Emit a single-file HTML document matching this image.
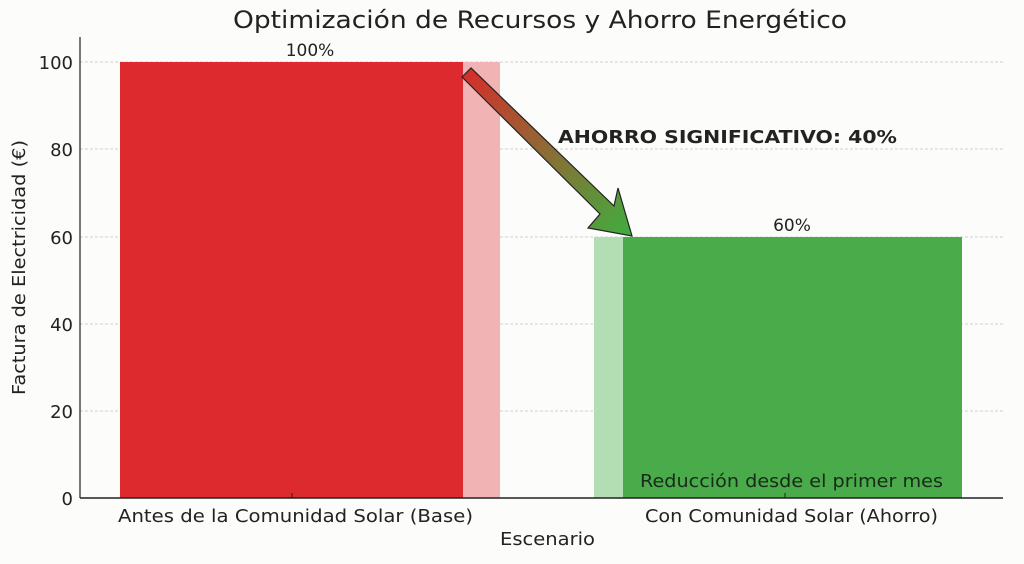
<!DOCTYPE html>
<html><head><meta charset="utf-8"><style>body{margin:0;background:#fcfcfb}</style></head><body>
<svg width="1024" height="559" xmlns="http://www.w3.org/2000/svg" font-family="DejaVu Sans, Liberation Sans, sans-serif">
<defs><linearGradient id="g" x1="0" y1="0" x2="1" y2="1"><stop offset="0" stop-color="#d92a2a"/><stop offset="1" stop-color="#3fae3f"/></linearGradient></defs>
<rect width="1024" height="559" fill="#fcfcfb"/>
<g stroke="#cfcfcf" stroke-dasharray="3,2" stroke-width="1">
<line x1="80" y1="62" x2="1003" y2="62"/><line x1="80" y1="149" x2="1003" y2="149"/><line x1="80" y1="237" x2="1003" y2="237"/><line x1="80" y1="324" x2="1003" y2="324"/><line x1="80" y1="411" x2="1003" y2="411"/></g>
<rect x="120" y="62" width="343" height="436" fill="#dd2a2f"/>
<rect x="463" y="62" width="37" height="436" fill="#f1b3b3"/>
<rect x="594" y="237" width="29" height="261" fill="#b3ddb3"/>
<rect x="623" y="237" width="339" height="261" fill="#49ab4a"/>
<polygon points="462,77 471,68 614,206 618,188 632,236 588,228 600,214" fill="url(#g)" stroke="#222" stroke-width="1.2"/>
<line x1="80" y1="37" x2="80" y2="498" stroke="#222" stroke-width="1.2"/>
<line x1="80" y1="498" x2="1003" y2="498" stroke="#222" stroke-width="1.5"/>
<line x1="292" y1="498" x2="292" y2="493" stroke="#222"/><line x1="785" y1="498" x2="785" y2="493" stroke="#222"/>
<g font-size="18" fill="#222" text-anchor="end">
<text x="73" y="69">100</text><text x="73" y="156">80</text><text x="73" y="244">60</text><text x="73" y="331">40</text><text x="73" y="418">20</text><text x="73" y="505">0</text></g>
<text x="233" y="28" font-size="24" textLength="614" lengthAdjust="spacingAndGlyphs" fill="#222">Optimización de Recursos y Ahorro Energético</text>
<text x="310" y="56" font-size="17" text-anchor="middle" fill="#222">100%</text>
<text x="792" y="231" font-size="17" text-anchor="middle" fill="#222">60%</text>
<text x="558" y="143" font-size="18" font-weight="bold" textLength="339" lengthAdjust="spacingAndGlyphs" fill="#222">AHORRO SIGNIFICATIVO: 40%</text>
<text x="640" y="487" font-size="18" textLength="303" lengthAdjust="spacingAndGlyphs" fill="#1a2a1a">Reducción desde el primer mes</text>
<text x="118" y="522" font-size="18" textLength="355" lengthAdjust="spacingAndGlyphs" fill="#222">Antes de la Comunidad Solar (Base)</text>
<text x="645" y="522" font-size="18" textLength="293" lengthAdjust="spacingAndGlyphs" fill="#222">Con Comunidad Solar (Ahorro)</text>
<text x="500" y="545" font-size="18" textLength="95" lengthAdjust="spacingAndGlyphs" fill="#222">Escenario</text>
<text transform="translate(25,395) rotate(-90)" font-size="18" textLength="255" lengthAdjust="spacingAndGlyphs" fill="#222">Factura de Electricidad (€)</text>
</svg></body></html>
